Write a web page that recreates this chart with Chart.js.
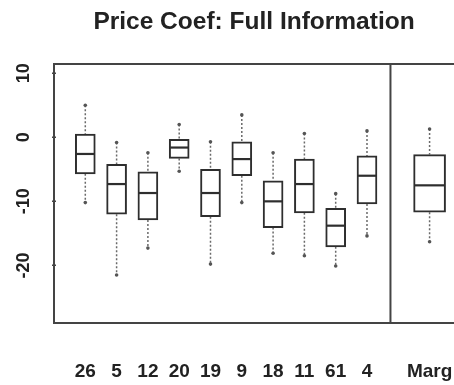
<!DOCTYPE html>
<html>
<head>
<meta charset="utf-8">
<script src="https://cdn.jsdelivr.net/npm/chart.js@4/dist/chart.umd.min.js"></script>
<style>
  html, body { margin: 0; padding: 0; background: #fff; overflow: hidden; }
  canvas { display: block; }
</style>
</head>
<body>
<canvas id="chart" width="454" height="385"></canvas>
<script>
// Group labels and their x positions (the marginal box sits apart at 12)
const categories = ['26', '5', '12', '20', '19', '9', '18', '11', '61', '4', 'Marg'];
const positions = [1, 2, 3, 4, 5, 6, 7, 8, 9, 10, 12];

// Five-number summaries of the price coefficient per group
const whiskerHigh   = [5.0, -0.8, -2.4, 2.0, -0.7, 3.5, -2.4, 0.6, -8.8, 1.0, 1.3];
const upperQuartile = [0.5, -4.2, -5.4, -0.3, -5.0, -0.7, -6.8, -3.4, -11.1, -2.9, -2.7];
const medians       = [-2.6, -7.3, -8.7, -1.6, -8.7, -3.4, -10.0, -7.3, -13.8, -6.0, -7.5];
const lowerQuartile = [-5.7, -12.0, -12.9, -3.3, -12.4, -6.0, -14.1, -11.8, -17.1, -10.4, -11.7];
const whiskerLow    = [-10.2, -21.5, -17.3, -5.3, -19.8, -10.2, -18.1, -18.5, -20.1, -15.4, -16.3];

const yTicks = [10, 0, -10, -20];
const dividerAt = 10.75;

const INK = '#2e2e2e';
const FONT = 'Liberation Sans, Arial, Helvetica, sans-serif';

const groupIdx = positions.map((p, i) => i).filter(i => categories[i] !== 'Marg');
const margIdx = positions.map((p, i) => i).filter(i => categories[i] === 'Marg');

const boxData = idx => idx.map(i => ({ x: positions[i], y: [lowerQuartile[i], upperQuartile[i]] }));

// Dotted whiskers plus the outer frame and the panel divider
const boxFrame = {
  id: 'boxFrame',
  beforeDatasetsDraw(chart) {
    const { ctx, chartArea: a, scales: { x, y } } = chart;
    ctx.save();
    ctx.strokeStyle = '#6a6a6a';
    ctx.fillStyle = '#555';
    ctx.lineWidth = 1.5;
    ctx.setLineDash([2, 2]);
    positions.forEach((p, i) => {
      const px = x.getPixelForValue(p);
      ctx.beginPath();
      ctx.moveTo(px, y.getPixelForValue(whiskerHigh[i]));
      ctx.lineTo(px, y.getPixelForValue(upperQuartile[i]));
      ctx.moveTo(px, y.getPixelForValue(lowerQuartile[i]));
      ctx.lineTo(px, y.getPixelForValue(whiskerLow[i]));
      ctx.stroke();
    });
    ctx.setLineDash([]);
    positions.forEach((p, i) => {
      const px = x.getPixelForValue(p);
      [whiskerHigh[i], whiskerLow[i]].forEach(v => {
        ctx.beginPath();
        ctx.arc(px, y.getPixelForValue(v), 1.8, 0, Math.PI * 2);
        ctx.fill();
      });
    });
    ctx.strokeStyle = '#444';
    ctx.lineWidth = 2;
    ctx.beginPath();
    ctx.moveTo(a.right + 2, a.top);
    ctx.lineTo(a.left, a.top);
    ctx.lineTo(a.left, a.bottom);
    ctx.lineTo(a.right + 2, a.bottom);
    const dx = x.getPixelForValue(dividerAt);
    ctx.moveTo(dx, a.top);
    ctx.lineTo(dx, a.bottom);
    ctx.stroke();
    // small axis ticks on the left
    ctx.lineWidth = 1.5;
    ctx.beginPath();
    yTicks.forEach(v => {
      const py = y.getPixelForValue(v);
      ctx.moveTo(a.left - 2, py);
      ctx.lineTo(a.left + 2, py);
    });
    ctx.stroke();
    ctx.restore();
  }
};

new Chart(document.getElementById('chart'), {
  type: 'bar',
  data: {
    datasets: [
      {
        data: boxData(groupIdx),
        barThickness: 20,
        backgroundColor: '#ffffff',
        borderColor: INK,
        borderWidth: 2,
        borderSkipped: false,
        grouped: false,
        order: 2
      },
      {
        data: boxData(margIdx),
        barThickness: 32,
        backgroundColor: '#ffffff',
        borderColor: INK,
        borderWidth: 2,
        borderSkipped: false,
        grouped: false,
        order: 2
      },
      {
        type: 'scatter',
        data: positions.map((p, i) => ({ x: p, y: medians[i] })),
        pointStyle: 'line',
        pointRadius: positions.map((p, i) => categories[i] === 'Marg' ? 15 : 9),
        pointBorderColor: INK,
        pointBorderWidth: 2.2,
        pointBackgroundColor: INK,
        order: 0
      }
    ]
  },
  options: {
    responsive: false,
    animation: false,
    events: [],
    layout: { autoPadding: false, padding: { left: 0, right: 0, top: 0, bottom: 0 } },
    plugins: {
      legend: { display: false },
      tooltip: { enabled: false },
      title: {
        display: true,
        text: 'Price Coef: Full Information',
        color: '#222',
        fullSize: false,
        font: { family: FONT, size: 24.5, weight: 'bold' },
        padding: { top: 8, bottom: 26.6 }
      }
    },
    scales: {
      x: {
        type: 'linear',
        offset: false,
        min: 0,
        max: 12.78,
        grid: { display: false, drawTicks: false, offset: false },
        border: { display: false },
        afterBuildTicks(scale) {
          scale.ticks = positions.map(p => ({ value: p }));
        },
        afterFit(scale) {
          scale.height = 62;
          scale.paddingLeft = 0;
          scale.paddingRight = 0;
        },
        ticks: {
          autoSkip: false,
          maxRotation: 0,
          padding: 37,
          color: '#222',
          font: { family: FONT, size: 19, weight: 'bold' },
          callback: v => categories[positions.indexOf(v)]
        }
      },
      y: {
        type: 'linear',
        min: -29,
        max: 11.45,
        grid: { display: false, drawTicks: false },
        border: { display: false },
        afterBuildTicks(scale) {
          scale.ticks = yTicks.map(v => ({ value: v }));
        },
        afterFit(scale) { scale.width = 54; },
        ticks: {
          minRotation: 90,
          maxRotation: 90,
          crossAlign: 'center',
          padding: 17,
          color: '#222',
          font: { family: FONT, size: 18, weight: 'bold' }
        }
      }
    }
  },
  plugins: [boxFrame]
});
</script>
</body>
</html>
